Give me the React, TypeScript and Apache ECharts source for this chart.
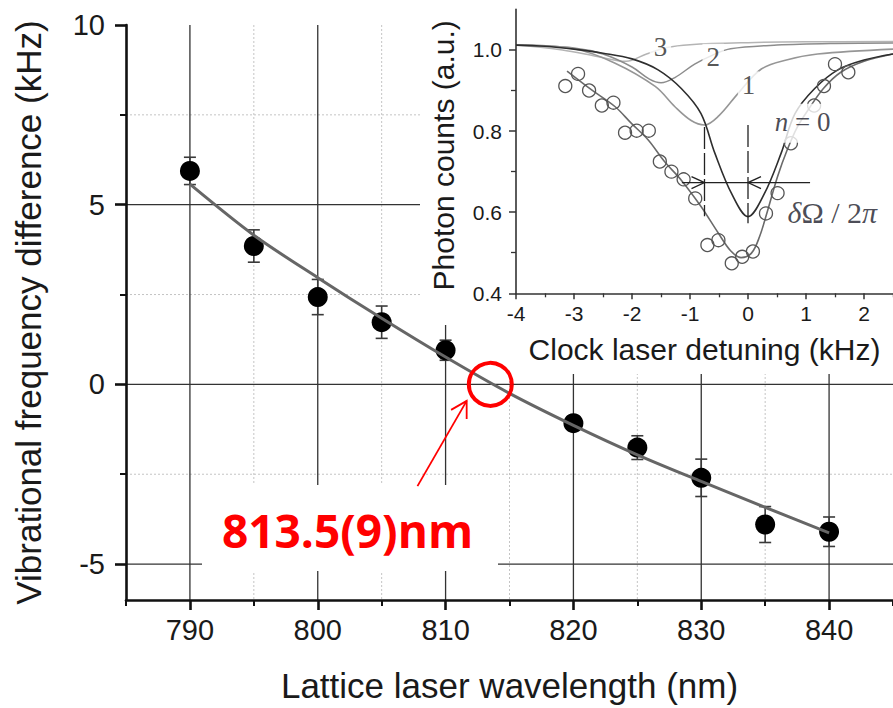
import React, { useEffect, useRef } from "react";
import * as echarts from "echarts";

// ---------- main panel: vibrational frequency difference vs lattice wavelength ----------
const wavelengths = [790, 795, 800, 805, 810, 820, 825, 830, 835, 840];
const freqDiff = [5.94, 3.85, 2.43, 1.73, 0.95, -1.08, -1.76, -2.6, -3.9, -4.1];
const freqErr = [0.38, 0.45, 0.49, 0.45, 0.28, 0.2, 0.33, 0.52, 0.5, 0.41];

const fitWavelengths = [790, 795, 800, 805, 810, 815, 820, 825, 830, 835, 840];
const fitFreq = [5.57, 4.15, 2.97, 1.84, 0.76, -0.25, -1.14, -1.96, -2.7, -3.42, -4.13];

const magicWavelength = 813.5;
const magicLabel = "813.5(9)nm";
const arrowTail = [807.8, -2.83];
const arrowTip = [811.65, -0.46];

const xMajorTicks = [790, 800, 810, 820, 830, 840];
const xMinorTicks = [785, 795, 805, 815, 825, 835, 845];
const yMajorTicks = [-5, 0, 5, 10];
const yMinorTicks = [-2.5, 2.5, 7.5];
const xMajorGrid = [790, 800, 810, 820, 830, 840];
const xMinorGrid = [795, 805, 815, 825, 835];
const yMajorGrid = [-5, 0, 5];
const yMinorGrid = [-2.5, 2.5, 7.5];

// ---------- inset: clock-transition spectrum ----------
const detuning = [-3.15, -2.93, -2.74, -2.52, -2.32, -2.12, -1.92, -1.71, -1.52, -1.32, -1.11, -0.91,
  -0.7, -0.51, -0.28, -0.1, 0.085, 0.31, 0.51, 0.74, 1.14, 1.31, 1.5, 1.73];
const photonCounts = [0.911, 0.941, 0.9, 0.863, 0.87, 0.796, 0.801, 0.801, 0.725, 0.7, 0.681, 0.634,
  0.519, 0.531, 0.474, 0.49, 0.503, 0.597, 0.647, 0.77, 0.863, 0.911, 0.965, 0.945];

const spectrumFit: [number, number][] = [[-3.12, 0.948], [-2.69, 0.901], [-2.29, 0.86], [-2.01, 0.819],
  [-1.72, 0.778], [-1.44, 0.725], [-1.15, 0.679], [-0.81, 0.614], [-0.51, 0.548], [-0.3, 0.505],
  [-0.12, 0.488], [0.06, 0.499], [0.2, 0.54], [0.34, 0.605], [0.51, 0.688], [0.68, 0.755],
  [0.85, 0.81], [1.05, 0.855], [1.3, 0.905], [1.6, 0.945], [2.0, 0.972], [2.5, 0.99]];
const lineN0: [number, number][] = [[-4, 1.012], [-3.5, 1.009], [-3, 1.002], [-2.5, 0.992], [-2, 0.978],
  [-1.55, 0.951], [-1.15, 0.905], [-0.81, 0.843], [-0.57, 0.745], [-0.28, 0.645], [0, 0.589],
  [0.28, 0.645], [0.57, 0.745], [0.81, 0.843], [1.15, 0.905], [1.55, 0.951], [2, 0.975], [2.5, 0.99]];
const lineN1: [number, number][] = [[-4, 1.012], [-3, 1.003], [-2.3, 0.968], [-1.6, 0.91], [-1.26, 0.86],
  [-0.98, 0.826], [-0.75, 0.815], [-0.5, 0.838], [-0.17, 0.893], [0.23, 0.953], [0.68, 0.976],
  [1.2, 0.99], [2.5, 1.002]];
const lineN2: [number, number][] = [[-4, 1.012], [-3, 1.005], [-2.5, 0.99], [-2, 0.958], [-1.7, 0.928],
  [-1.5, 0.919], [-1.26, 0.932], [-0.92, 0.965], [-0.6, 0.988], [-0.3, 1.003], [0.5, 1.012],
  [1.5, 1.016], [2.5, 1.017]];
const lineN3: [number, number][] = [[-4, 1.012], [-3.2, 1.0], [-2.6, 0.984], [-2.1, 0.972], [-1.75, 0.99],
  [-1.4, 1.006], [-1, 1.013], [0, 1.018], [1, 1.02], [2.5, 1.021]];

const curveLabels = ["3", "2", "1"];
const curveLabelX = [-1.51, -0.6, 0.01];
const curveLabelY = [1.008, 0.982, 0.914];

// dashed markers: [x, yTop, yBottom]
const widthMarkers = [[-0.75, 0.81, 0.59], [0, 0.815, 0.573]];
// horizontal bar: [xStart, xEnd, y]
const widthBar = [[-1.14, 1.07, 0.673]];
// arrow heads: [x, y, direction]
const widthArrows = [[-0.75, 0.673, 1], [0, 0.673, -1]];

const insetXMajor = [-4, -3, -2, -1, 0, 1, 2];
const insetXMinor = [-3.5, -2.5, -1.5, -0.5, 0.5, 1.5, 2.5];
const insetYMajor = [0.4, 0.6, 0.8, 1.0];
const insetYMinor = [0.5, 0.7, 0.9];

const SANS = "Liberation Sans, Arial, Helvetica, sans-serif";
const SERIF = "Liberation Serif, DejaVu Serif, Times New Roman, serif";
const INK = "#1a1a1a";

function lineSeries(name: string, data: [number, number][], color: string, width: number) {
  return {
    name, type: "line", xAxisIndex: 2, yAxisIndex: 2, data, smooth: 0.35, showSymbol: false,
    silent: true, z: 21, lineStyle: { color, width },
  };
}

function buildOption(): any {
  return {
    animation: false,
    backgroundColor: "#ffffff",
    textStyle: { fontFamily: SANS },
    grid: [
      { left: 126, top: 25, right: -7.6, bottom: 107.3 },
      { left: 516, top: 9.4, right: -3.25, bottom: 414.7 },
    ],
    xAxis: [
      {
        gridIndex: 0, type: "value", min: 785, max: 845, position: "bottom", z: 3,
        axisLine: { show: true, onZero: false, lineStyle: { color: "#111", width: 2.6 } },
        axisTick: { show: true, customValues: xMajorTicks, length: 10, lineStyle: { color: "#111", width: 2.6 } },
        axisLabel: { show: true, customValues: xMajorTicks, margin: 15, fontSize: 29, color: INK, fontFamily: SANS },
        splitLine: { show: false },
        name: "Lattice laser wavelength (nm)", nameLocation: "middle", nameGap: 68,
        nameTextStyle: { fontSize: 35, color: INK, fontFamily: SANS },
      },
      {
        gridIndex: 0, type: "value", min: 785, max: 845, position: "bottom", z: 3,
        axisLine: { show: false, onZero: false },
        axisTick: { show: true, customValues: xMinorTicks, length: 6, lineStyle: { color: "#111", width: 2 } },
        axisLabel: { show: false }, splitLine: { show: false },
      },
      {
        gridIndex: 1, type: "value", min: -4, max: 2.5, position: "bottom", z: 25,
        axisLine: { show: true, onZero: false, lineStyle: { color: "#333", width: 1.6 } },
        axisTick: { show: true, customValues: insetXMajor, length: 6, lineStyle: { color: "#333", width: 1.5 } },
        axisLabel: { show: true, customValues: insetXMajor, margin: 10, fontSize: 21, color: INK, fontFamily: SANS },
        splitLine: { show: false },
        name: "Clock laser detuning (kHz)", nameLocation: "middle", nameGap: 41,
        nameTextStyle: { fontSize: 30, color: INK, fontFamily: SANS },
      },
      {
        gridIndex: 1, type: "value", min: -4, max: 2.5, position: "bottom", z: 25,
        axisLine: { show: false, onZero: false },
        axisTick: { show: true, customValues: insetXMinor, length: 4, lineStyle: { color: "#333", width: 1.3 } },
        axisLabel: { show: false }, splitLine: { show: false },
      },
    ],
    yAxis: [
      {
        gridIndex: 0, type: "value", min: -6, max: 10, position: "left", z: 3,
        axisLine: { show: true, onZero: false, lineStyle: { color: "#111", width: 2.6 } },
        axisTick: { show: true, customValues: yMajorTicks, length: 11, lineStyle: { color: "#111", width: 2.6 } },
        axisLabel: { show: true, customValues: yMajorTicks, margin: 21, fontSize: 29, color: INK, fontFamily: SANS },
        splitLine: { show: false },
        name: "Vibrational frequency difference (kHz)", nameLocation: "middle", nameGap: 80,
        nameTextStyle: { fontSize: 35, color: INK, fontFamily: SANS },
      },
      {
        gridIndex: 0, type: "value", min: -6, max: 10, position: "left", z: 3,
        axisLine: { show: false, onZero: false },
        axisTick: { show: true, customValues: yMinorTicks, length: 6, lineStyle: { color: "#111", width: 2 } },
        axisLabel: { show: false }, splitLine: { show: false },
      },
      {
        gridIndex: 1, type: "value", min: 0.4, max: 1.1, position: "left", z: 25,
        axisLine: { show: true, onZero: false, lineStyle: { color: "#333", width: 1.6 } },
        axisTick: { show: true, customValues: insetYMajor, length: 7, lineStyle: { color: "#333", width: 1.5 } },
        axisLabel: {
          show: true, customValues: insetYMajor, margin: 14, fontSize: 21, color: INK, fontFamily: SANS,
          formatter: (v: number) => v.toFixed(1),
        },
        splitLine: { show: false },
        name: "Photon counts (a.u.)", nameLocation: "middle", nameGap: 58,
        nameTextStyle: { fontSize: 30, color: INK, fontFamily: SANS, padding: [0, 8, 0, 0] },
      },
      {
        gridIndex: 1, type: "value", min: 0.4, max: 1.1, position: "left", z: 25,
        axisLine: { show: false, onZero: false },
        axisTick: { show: true, customValues: insetYMinor, length: 5, lineStyle: { color: "#333", width: 1.3 } },
        axisLabel: { show: false }, splitLine: { show: false },
      },
    ],
    graphic: [
      // inset panel background and its axis-title strip
      { type: "rect", z: 10, silent: true, shape: { x: 420, y: 0, width: 480, height: 325 }, style: { fill: "#ffffff" } },
      { type: "rect", z: 10, silent: true, shape: { x: 505, y: 324, width: 400, height: 50 }, style: { fill: "#ffffff" } },
      // annotation box
      { type: "rect", z: 10, silent: true, shape: { x: 202, y: 485, width: 296, height: 86 }, style: { fill: "#ffffff" } },
      {
        type: "text", z: 12, silent: true, x: 347.5, y: 530,
        style: {
          text: magicLabel, fill: "#ff0000", fontSize: 46, fontWeight: "bold",
          fontFamily: "Open Sans, Noto Sans, sans-serif", align: "center", verticalAlign: "middle",
        },
      },
    ],
    series: [
      // grid lines (major solid, minor dotted)
      {
        type: "custom", xAxisIndex: 0, yAxisIndex: 0, silent: true, z: 1,
        data: [
          ...xMinorGrid.map((v) => [v, 0, 1]),
          ...yMinorGrid.map((v) => [v, 1, 1]),
          ...xMajorGrid.map((v) => [v, 0, 0]),
          ...yMajorGrid.map((v) => [v, 1, 0]),
        ],
        encode: { x: 0, y: 1 },
        renderItem: (params: any, api: any) => {
          const v = api.value(0);
          const horizontal = api.value(1) === 1;
          const minor = api.value(2) === 1;
          const cs = params.coordSys;
          const style = minor
            ? { stroke: "#c4c4c4", lineWidth: 1, lineDash: [2, 2] }
            : { stroke: "#333", lineWidth: 1.3 };
          if (horizontal) {
            const py = api.coord([800, v])[1];
            return { type: "line", shape: { x1: cs.x, y1: py, x2: cs.x + cs.width, y2: py }, style };
          }
          const px = api.coord([v, 0])[0];
          return { type: "line", shape: { x1: px, y1: cs.y, x2: px, y2: cs.y + cs.height }, style };
        },
      },
      // error bars
      {
        type: "custom", xAxisIndex: 0, yAxisIndex: 0, silent: true, z: 3,
        data: wavelengths.map((w, i) => [w, freqDiff[i], freqErr[i]]),
        encode: { x: 0, y: 1 },
        renderItem: (_params: any, api: any) => {
          const x = api.value(0), y = api.value(1), e = api.value(2);
          const top = api.coord([x, y + e]);
          const bot = api.coord([x, y - e]);
          const hw = 6;
          const style = { stroke: "#3a3a3a", lineWidth: 1.6 };
          return {
            type: "group",
            children: [
              { type: "line", shape: { x1: top[0], y1: top[1], x2: bot[0], y2: bot[1] }, style },
              { type: "line", shape: { x1: top[0] - hw, y1: top[1], x2: top[0] + hw, y2: top[1] }, style },
              { type: "line", shape: { x1: bot[0] - hw, y1: bot[1], x2: bot[0] + hw, y2: bot[1] }, style },
            ],
          };
        },
      },
      {
        name: "Measured", type: "scatter", xAxisIndex: 0, yAxisIndex: 0, silent: true, z: 4,
        data: wavelengths.map((w, i) => [w, freqDiff[i]]),
        symbol: "circle", symbolSize: 20, itemStyle: { color: "#000", opacity: 1 },
      },
      {
        name: "Fit", type: "line", xAxisIndex: 0, yAxisIndex: 0, silent: true, z: 5,
        data: fitWavelengths.map((w, i) => [w, fitFreq[i]]),
        smooth: 0.3, showSymbol: false, lineStyle: { color: "#666", width: 3 },
      },
      // magic wavelength marker
      {
        type: "scatter", xAxisIndex: 0, yAxisIndex: 0, silent: true, z: 40,
        data: [[magicWavelength, 0]], symbol: "circle", symbolSize: 43,
        itemStyle: { color: "rgba(0,0,0,0)", borderColor: "#ff0000", borderWidth: 4, opacity: 1 },
      },
      {
        type: "custom", xAxisIndex: 0, yAxisIndex: 0, silent: true, z: 40,
        data: [[arrowTail[0], arrowTail[1], arrowTip[0], arrowTip[1]]],
        encode: { x: 0, y: 1 },
        renderItem: (_params: any, api: any) => {
          const s = api.coord([api.value(0), api.value(1)]);
          const t = api.coord([api.value(2), api.value(3)]);
          const dx = t[0] - s[0], dy = t[1] - s[1];
          const len = Math.hypot(dx, dy);
          const bx = -dx / len, by = -dy / len;
          const L = 18, a = Math.PI / 6;
          const w1 = [t[0] + L * (bx * Math.cos(a) - by * Math.sin(a)), t[1] + L * (bx * Math.sin(a) + by * Math.cos(a))];
          const w2 = [t[0] + L * (bx * Math.cos(-a) - by * Math.sin(-a)), t[1] + L * (bx * Math.sin(-a) + by * Math.cos(-a))];
          const style = { stroke: "#ff0000", lineWidth: 1.8, fill: "none" };
          return {
            type: "group",
            children: [
              { type: "line", shape: { x1: s[0], y1: s[1], x2: t[0], y2: t[1] }, style },
              { type: "polyline", shape: { points: [w1, t, w2] }, style },
            ],
          };
        },
      },

      // ---------- inset ----------
      lineSeries("n=3", lineN3, "#b4b4b4", 1.5),
      lineSeries("n=2", lineN2, "#8c8c8c", 1.5),
      lineSeries("n=1", lineN1, "#969696", 1.6),
      lineSeries("fit", spectrumFit, "#6a6a6a", 1.6),
      lineSeries("n=0", lineN0, "#2e2e2e", 1.6),
      {
        type: "scatter", xAxisIndex: 2, yAxisIndex: 2, silent: true, z: 22,
        data: detuning.map((d, i) => [d, photonCounts[i]]),
        symbol: "circle", symbolSize: 13,
        itemStyle: { color: "rgba(0,0,0,0)", borderColor: "#555", borderWidth: 1.3, opacity: 1 },
      },
      {
        type: "custom", xAxisIndex: 2, yAxisIndex: 2, silent: true, z: 23,
        data: widthMarkers, encode: { x: 0, y: 1 },
        renderItem: (_params: any, api: any) => {
          const a = api.coord([api.value(0), api.value(1)]);
          const b = api.coord([api.value(0), api.value(2)]);
          return {
            type: "line", shape: { x1: a[0], y1: a[1], x2: b[0], y2: b[1] },
            style: { stroke: "#222", lineWidth: 1.3, lineDash: [22, 4] },
          };
        },
      },
      {
        type: "custom", xAxisIndex: 2, yAxisIndex: 2, silent: true, z: 23,
        data: widthBar, encode: { x: 0, y: 2 },
        renderItem: (_params: any, api: any) => {
          const a = api.coord([api.value(0), api.value(2)]);
          const b = api.coord([api.value(1), api.value(2)]);
          return {
            type: "line", shape: { x1: a[0], y1: a[1], x2: b[0], y2: b[1] },
            style: { stroke: "#222", lineWidth: 1.3 },
          };
        },
      },
      {
        type: "custom", xAxisIndex: 2, yAxisIndex: 2, silent: true, z: 23,
        data: widthArrows, encode: { x: 0, y: 1 },
        renderItem: (_params: any, api: any) => {
          const t = api.coord([api.value(0), api.value(1)]);
          const dir = api.value(2);
          return {
            type: "polyline",
            shape: { points: [[t[0] - dir * 13, t[1] - 6], t, [t[0] - dir * 13, t[1] + 6]] },
            style: { stroke: "#222", lineWidth: 1.3, fill: "none" },
          };
        },
      },
      {
        type: "scatter", xAxisIndex: 2, yAxisIndex: 2, silent: true, z: 30,
        data: curveLabels.map((t, i) => ({ value: [curveLabelX[i], curveLabelY[i]], name: t })),
        symbolSize: 1, itemStyle: { color: "rgba(0,0,0,0)" },
        label: {
          show: true, position: "inside", formatter: (p: any) => p.name,
          fontFamily: SERIF, fontSize: 27, color: "#2a2a2a", backgroundColor: "#fff", padding: [0, 4],
        },
      },
      {
        type: "scatter", xAxisIndex: 2, yAxisIndex: 2, silent: true, z: 30,
        data: [{ value: [0.94, 0.819], name: "n0" }],
        symbolSize: 1, itemStyle: { color: "rgba(0,0,0,0)" },
        label: {
          show: true, position: "inside", formatter: "{i|n} = 0",
          fontFamily: SERIF, fontSize: 27, color: "#1c1c2a", backgroundColor: "#fff", padding: [5, 4, 7, 4],
          rich: { i: { fontFamily: SERIF, fontSize: 27, fontStyle: "italic", color: "#1c1c2a" } },
        },
      },
      {
        type: "scatter", xAxisIndex: 2, yAxisIndex: 2, silent: true, z: 30,
        data: [{ value: [1.453, 0.599], name: "dOmega" }],
        symbolSize: 1, itemStyle: { color: "rgba(0,0,0,0)" },
        label: {
          show: true, position: "inside", formatter: "{i|δ}Ω / 2{i|π}",
          fontFamily: SERIF, fontSize: 30, color: "#1c1c2a",
          rich: { i: { fontFamily: SERIF, fontSize: 30, fontStyle: "italic", color: "#1c1c2a" } },
        },
      },
    ],
  };
}

export default function App() {
  const ref = useRef<HTMLDivElement>(null);
  useEffect(() => {
    if (!ref.current) return;
    const chart = echarts.init(ref.current, null, { renderer: "svg" });
    chart.setOption(buildOption());
    return () => chart.dispose();
  }, []);
  return (
    <div
      ref={ref}
      style={{ position: "absolute", left: 0, top: 0, width: 893, height: 708, background: "#fff" }}
    />
  );
}
